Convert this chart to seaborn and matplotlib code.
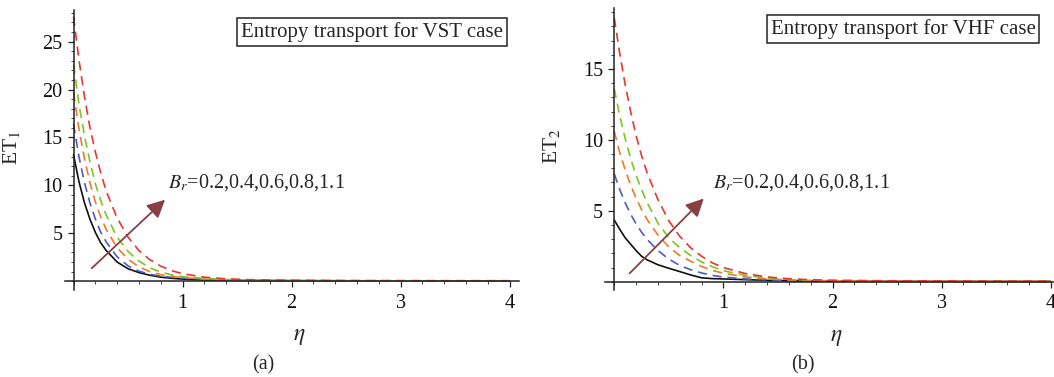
import numpy as np
import pandas as pd
import seaborn as sns
import matplotlib.pyplot as plt
from matplotlib.ticker import FixedLocator, MultipleLocator

# Similarity variable
eta = [0, 0.05, 0.1, 0.15, 0.2, 0.25, 0.3, 0.4, 0.5, 0.6, 0.7, 0.8, 0.9, 1.0,
       1.2, 1.4, 1.6, 1.8, 2.0, 2.5, 3.0, 3.5, 4.0]

br_values = ["0.2", "0.4", "0.6", "0.8", "1.1"]

# Entropy transport, variable surface temperature (VST)
et1_br02 = [13.2, 10.4, 8.2, 6.5, 5.1, 4.0, 3.2, 2.0, 1.3, 0.9, 0.62, 0.42, 0.3, 0.22,
            0.13, 0.09, 0.06, 0.05, 0.04, 0.03, 0.03, 0.02, 0.02]
et1_br04 = [16.4, 13.0, 10.3, 8.2, 6.5, 5.1, 4.1, 2.55, 1.6, 1.05, 0.72, 0.52, 0.4, 0.32,
            0.19, 0.12, 0.08, 0.06, 0.05, 0.04, 0.03, 0.03, 0.03]
et1_br06 = [19.7, 15.9, 12.8, 10.3, 8.3, 6.7, 5.4, 3.5, 2.3, 1.5, 1.0, 0.68, 0.5, 0.38,
            0.22, 0.14, 0.1, 0.07, 0.06, 0.04, 0.03, 0.03, 0.03]
et1_br08 = [22.6, 18.5, 15.2, 12.5, 10.2, 8.4, 6.9, 4.6, 3.1, 2.1, 1.4, 0.95, 0.66, 0.48,
            0.28, 0.18, 0.12, 0.09, 0.07, 0.05, 0.04, 0.04, 0.04]
et1_br11 = [27.6, 23.1, 19.3, 16.1, 13.5, 11.3, 9.4, 6.6, 4.6, 3.2, 2.25, 1.57, 1.1, 0.78,
            0.42, 0.25, 0.16, 0.12, 0.1, 0.07, 0.06, 0.05, 0.05]

# Entropy transport, variable heat flux (VHF)
et2_br02 = [4.35, 3.7, 3.1, 2.65, 2.2, 1.8, 1.55, 1.2, 0.95, 0.72, 0.48, 0.28, 0.22, 0.2,
            0.15, 0.1, 0.07, 0.05, 0.04, 0.03, 0.02, 0.02, 0.02]
et2_br04 = [7.6, 6.5, 5.57, 4.77, 4.08, 3.5, 3.0, 2.2, 1.6, 1.15, 0.85, 0.62, 0.45, 0.33,
            0.2, 0.13, 0.09, 0.07, 0.05, 0.04, 0.03, 0.03, 0.03]
et2_br06 = [10.6, 9.1, 7.9, 6.8, 5.9, 5.1, 4.4, 3.3, 2.45, 1.85, 1.45, 1.08, 0.8, 0.6,
            0.34, 0.21, 0.13, 0.09, 0.07, 0.05, 0.04, 0.04, 0.04]
et2_br08 = [13.6, 11.7, 10.1, 8.7, 7.5, 6.5, 5.6, 4.15, 3.1, 2.4, 1.85, 1.4, 1.05, 0.78,
            0.45, 0.27, 0.17, 0.12, 0.09, 0.06, 0.05, 0.05, 0.05]
et2_br11 = [18.6, 16.1, 13.9, 12.0, 10.3, 8.9, 7.7, 5.8, 4.3, 3.2, 2.4, 1.8, 1.33, 1.0,
            0.58, 0.34, 0.21, 0.14, 0.1, 0.07, 0.06, 0.05, 0.05]

sns.set_theme(style="white")
plt.rcParams["font.family"] = ["Liberation Serif", "DejaVu Serif"]
plt.rcParams["mathtext.fontset"] = "stix"

colors = {"0.2": "#111111", "0.4": "#4a5cc4", "0.6": "#f0782a",
          "0.8": "#80c521", "1.1": "#e8352e"}
dashes = {"0.2": "", "0.4": (5.5, 3.5), "0.6": (5.5, 3.5), "0.8": (5.5, 3.5), "1.1": (5.5, 3.5)}


def long_frame(series):
    rows = []
    for br, vals in zip(br_values, series):
        for x, y in zip(eta, vals):
            rows.append({"eta": x, "ET": y, "Br": br})
    return pd.DataFrame(rows)


df1 = long_frame([et1_br02, et1_br04, et1_br06, et1_br08, et1_br11])
df2 = long_frame([et2_br02, et2_br04, et2_br06, et2_br08, et2_br11])

W, H = 1054, 377
fig = plt.figure(figsize=(W / 100, H / 100), dpi=100)
ax1 = fig.add_axes([65 / W, 1 - 290 / H, 454 / W, 280 / H])
ax2 = fig.add_axes([605 / W, 1 - 290 / H, 449 / W, 282 / H])

panels = [
    (ax1, df1, (-0.078, 4.087), (-0.92, 28.3), [5, 10, 15, 20, 25], "ET$_1$",
     "Entropy transport for VST case", ((0.167, 1.35), (0.84, 8.5)), (168, 183), (372, 32), (263, 365), "(a)"),
    (ax2, df2, (-0.085, 4.03), (-0.58, 19.3), [5, 10, 15], "ET$_2$",
     "Entropy transport for VHF case", ((0.14, 0.59), (0.82, 5.87)), (713, 183), (903, 29), (803, 365), "(b)"),
]

for ax, df, xl, yl, yt, ylab, title, arrow, brpos, boxpos, tagpos, tag in panels:
    sns.lineplot(data=df, x="eta", y="ET", hue="Br", style="Br", palette=colors,
                 dashes=dashes, linewidth=1.2, legend=False, sort=False, ax=ax)
    ax.set_xlim(*xl)
    ax.set_ylim(*yl)
    for side in ("top", "right"):
        ax.spines[side].set_visible(False)
    for side in ("left", "bottom"):
        ax.spines[side].set_position(("data", 0))
        ax.spines[side].set_color("#222222")
        ax.spines[side].set_linewidth(1.1)
    ax.xaxis.set_major_locator(FixedLocator([1, 2, 3, 4]))
    ax.xaxis.set_minor_locator(MultipleLocator(0.2))
    ax.yaxis.set_major_locator(FixedLocator(yt))
    ax.yaxis.set_minor_locator(MultipleLocator(1))
    ax.tick_params(which="major", direction="out", length=4, width=0.9, color="#222222",
                   labelsize=14.5, labelcolor="#111111", bottom=True, left=True)
    ax.tick_params(axis="x", which="major", pad=5)
    ax.tick_params(axis="y", which="major", pad=4)
    ax.tick_params(which="minor", direction="out", length=2.2, width=0.7, color="#444444",
                   bottom=True, left=True)
    ax.set_xlabel(r"$\eta$", fontsize=17)
    ax.set_ylabel(ylab, fontsize=15.5)
    ax.xaxis.set_label_coords(0.515, -0.13)
    ax.yaxis.set_label_coords(-0.095, 0.51)
    ax.grid(False)
    ax.set_facecolor("white")

    ax.annotate("", xy=arrow[1], xytext=arrow[0],
                arrowprops=dict(arrowstyle="-|>,head_length=0.9,head_width=0.45",
                                color="#8a3f44", lw=1.3, shrinkA=0, shrinkB=0))
    fig.text(brpos[0] / W, 1 - brpos[1] / H, r"$B_r$=0.2,0.4,0.6,0.8,1.1",
             fontsize=14.5, ha="left", va="center")
    fig.text(boxpos[0] / W, 1 - boxpos[1] / H, title, fontsize=15, ha="center", va="center",
             bbox=dict(boxstyle="square,pad=0.18", fc="white", ec="#222222", lw=1.1))
    fig.text(tagpos[0] / W, 1 - tagpos[1] / H, tag, fontsize=14.5, ha="center", va="center")

fig.savefig("out.png", dpi=100, facecolor="white")
